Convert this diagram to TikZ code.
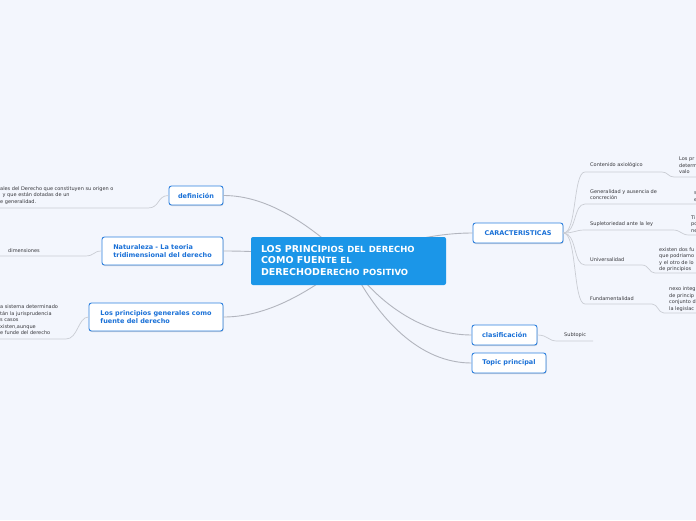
\documentclass[tikz,border=0pt]{standalone}
\usepackage{fontspec}
\setmainfont{DejaVu Sans}
\usetikzlibrary{shadows}
\definecolor{bg}{RGB}{243,246,253}
\definecolor{mainblue}{RGB}{27,150,232}
\definecolor{topicborder}{RGB}{45,128,222}
\definecolor{topictext}{RGB}{25,112,215}
\definecolor{conn}{RGB}{178,181,190}
\definecolor{subconn}{RGB}{202,205,212}
\definecolor{subtext}{RGB}{55,55,60}
\tikzset{
  centralbox/.style={fill=mainblue, rounded corners=2pt, text=white,
    font=\bfseries, align=left, text width=175pt, inner xsep=10pt,
    minimum width=195pt, minimum height=48pt},
  topicbox/.style={draw=topicborder, line width=0.9pt, fill=white,
    rounded corners=2.5pt, text=topictext,
    font=\fontsize{6.5}{8.5}\selectfont\bfseries, align=left,
    drop shadow={shadow xshift=0.5pt, shadow yshift=-1pt, opacity=0.25, fill=black!60}},
  subtxt/.style={text=subtext, font=\fontsize{5}{6.5}\selectfont, align=left, inner sep=0pt},
  mainline/.style={draw=conn, line width=0.9pt},
  subline/.style={draw=subconn, line width=0.7pt},
}
\begin{document}
\begin{tikzpicture}[x=1pt,y=-1pt]
\useasboundingbox (0,0) rectangle (696,520);
\fill[bg] (0,0) rectangle (696,520);
\clip (0,0) rectangle (696,520);

% ---------- topic nodes ----------
\node[topicbox, minimum width=54pt, minimum height=19pt] (def) at (196,195.5) {definición};
\node[topicbox, minimum width=121pt, minimum height=28pt] (nat) at (162.5,251) {Naturaleza - La teoria\\tridimensional del derecho};
\node[topicbox, minimum width=134pt, minimum height=28pt] (lpg) at (156,317) {Los principios generales como\\fuente del derecho};
\node[topicbox, minimum width=90pt, minimum height=20pt] (car) at (518,233) {CARACTERISTICAS};
\node[topicbox, minimum width=65pt, minimum height=20pt] (cla) at (504.5,335) {clasificación};
\node[topicbox, minimum width=74pt, minimum height=20pt] (top) at (509,363) {Topic principal};

% ---------- coordinates ----------
\coordinate (cc) at (348.5,261);
\coordinate (d1) at (148,208); \coordinate (d2) at (0,208);
\coordinate (n1) at (85,256); \coordinate (n2) at (0,256);
\coordinate (l1) at (66,339); \coordinate (l2) at (0,339);
\coordinate (c1a) at (585,172); \coordinate (c1b) at (662,172);
\coordinate (g1a) at (674,177); \coordinate (g1b) at (696,177);
\coordinate (c2a) at (585,204); \coordinate (c2b) at (696,204);
\coordinate (c3a) at (585,230); \coordinate (c3b) at (673,230);
\coordinate (g3a) at (689,235); \coordinate (g3b) at (696,235);
\coordinate (c4a) at (585,265); \coordinate (c4b) at (642,265);
\coordinate (g4a) at (655,273); \coordinate (g4b) at (696,273);
\coordinate (c5a) at (585,304); \coordinate (c5b) at (652,304);
\coordinate (g5a) at (664,313); \coordinate (g5b) at (696,313);
\coordinate (s1) at (557,341); \coordinate (s2) at (593,341);

% ---------- main connectors ----------
\draw[mainline] (cc) .. controls (300,215) and (260,195.5) .. (def.east);
\draw[mainline] (cc) .. controls (280,252) and (250,251) .. (nat.east);
\draw[mainline] (cc) .. controls (300,300) and (260,317) .. (lpg.east);
\draw[mainline] (cc) .. controls (400,240) and (440,233) .. (car.west);
\draw[mainline] (cc) .. controls (375,300) and (420,335) .. (cla.west);
\draw[mainline] (cc) .. controls (378,320) and (420,363) .. (top.west);

% ---------- sub connectors ----------
\draw[subline] (def.west) .. controls (157,195.5) and (160,208) .. (d1) -- (d2);
\draw[subline] (nat.west) .. controls (93,251) and (95,256) .. (n1) -- (n2);
\draw[subline] (lpg.west) .. controls (78,317) and (78,339) .. (l1) -- (l2);
\draw[subline] (car.east) .. controls (577,233) and (573,172) .. (c1a) -- (c1b) .. controls (668,172) and (668,177) .. (g1a) -- (g1b);
\draw[subline] (car.east) .. controls (577,233) and (573,204) .. (c2a) -- (c2b);
\draw[subline] (car.east) .. controls (575,233) and (575,230) .. (c3a) -- (c3b) .. controls (681,230) and (681,235) .. (g3a) -- (g3b);
\draw[subline] (car.east) .. controls (577,233) and (573,265) .. (c4a) -- (c4b) .. controls (649,265) and (649,273) .. (g4a) -- (g4b);
\draw[subline] (car.east) .. controls (577,233) and (573,304) .. (c5a) -- (c5b) .. controls (658,304) and (658,313) .. (g5a) -- (g5b);
\draw[subline] (cla.east) .. controls (548,335) and (548,341) .. (s1) -- (s2);

% ---------- central node ----------
\node[centralbox] (cen) at (cc) {\fontsize{9.5}{11}\selectfont LOS PRINCI{\fontsize{8.5}{11}\selectfont PIOS DEL DERECHO}\\COMO FUEN{\fontsize{8.5}{11}\selectfont TE EL}\\DERECHODE{\fontsize{8.5}{11}\selectfont RECHO POSITIVO}};

% ---------- sub texts ----------
\node[subtxt, anchor=west] (tdef) at (0,195.5) {ales del Derecho que constituyen su origen o\\\hspace*{2.5pt}y que están dotadas de un\\e generalidad.};
\node[subtxt, anchor=west] (tnat) at (8,251) {dimensiones};
\node[subtxt, anchor=west] (tlpg) at (0,320) {a sistema determinado\\tán la jurisprudencia\\s casos\\xisten,aunque\\e funde del derecho};

\node[subtxt, anchor=west] (k1) at (590,165) {Contenido axiológico};
\node[subtxt, anchor=west] (k2) at (590,194.5) {Generalidad y ausencia de\\concreción};
\node[subtxt, anchor=west] (k3) at (590,224) {Supletoriedad ante la ley};
\node[subtxt, anchor=west] (k4) at (590,260) {Universalidad};
\node[subtxt, anchor=west] (k5) at (590,299) {Fundamentalidad};

\node[subtxt, anchor=west] (q1) at (679,165.5) {Los pr\\determ\\valo};
\node[subtxt, anchor=west] (q2) at (694,196.5) {s\\e};
\node[subtxt, anchor=west] (q3) at (691,224) {Ti\\po\\ne};
\node[subtxt, anchor=west] (q4) at (659,259.75) {existen dos fu\\que podriamo\\y el otro de lo\\de principios};
\node[subtxt, anchor=west] (q5) at (669,299) {nexo integ\\de princip\\conjunto d\\la legislac};

\node[subtxt, anchor=west] (sub) at (564,335) {Subtopic};
\end{tikzpicture}
\end{document}
